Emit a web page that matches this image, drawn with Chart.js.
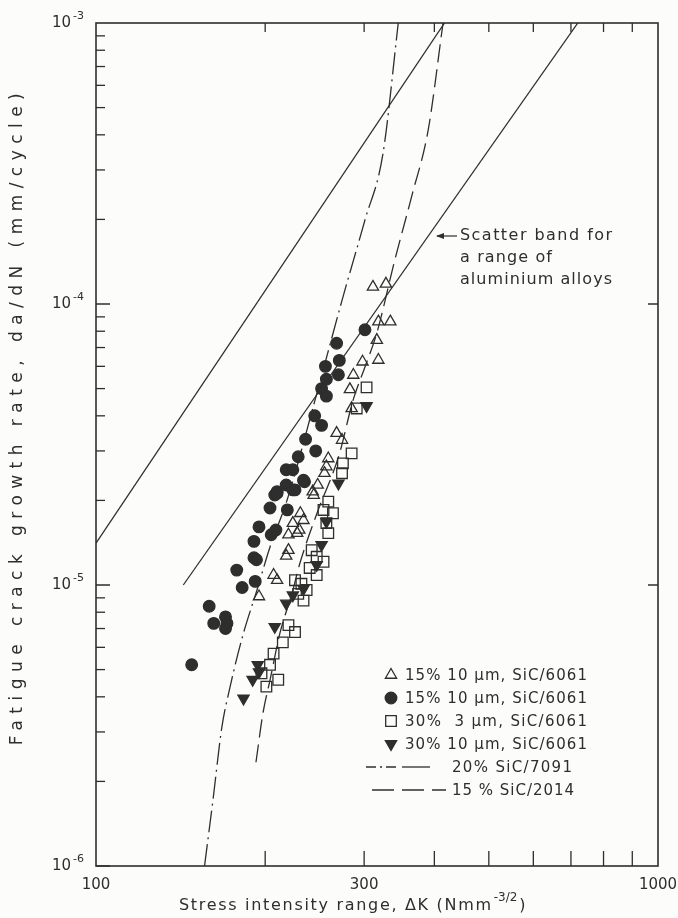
<!DOCTYPE html>
<html><head><meta charset="utf-8">
<script src="https://cdn.jsdelivr.net/npm/chart.js@4/dist/chart.umd.min.js"></script>
<style>html,body{margin:0;padding:0;background:#fcfcfa;} canvas{display:block}</style>
</head><body>
<canvas id="c" width="678" height="918"></canvas>
<script>
// ---------- data ----------
const xTickValues = [100, 300, 1000];
const xTickLabels = ['100', '300', '1000'];
const yTickValues = [1e-3, 1e-4, 1e-5, 1e-6];
const yTickExponents = ['-3', '-4', '-5', '-6'];

// 15% 10 µm SiC/6061 (open triangles)
const triOpenK = [311, 328, 318, 334, 316, 298, 318, 287, 283, 285, 268, 274, 259, 257, 255, 248, 243, 244, 231, 234, 224, 230, 220, 228, 220, 218, 207, 210, 195];
const triOpenRate = [1.15e-4, 1.18e-4, 8.65e-5, 8.65e-5, 7.44e-5, 6.23e-5, 6.32e-5, 5.59e-5, 4.97e-5, 4.25e-5, 3.47e-5, 3.28e-5, 2.82e-5, 2.64e-5, 2.50e-5, 2.27e-5, 2.15e-5, 2.09e-5, 1.80e-5, 1.70e-5, 1.66e-5, 1.57e-5, 1.51e-5, 1.53e-5, 1.33e-5, 1.27e-5, 1.085e-5, 1.04e-5, 9.1e-6];

// 15% 10 µm SiC/6061 (filled circles)
const circK = [148, 159, 162, 170, 171, 170, 178, 182, 192, 191, 193, 191, 195, 204, 205, 209, 208, 210, 219, 218, 224, 235, 301, 268, 271, 256, 270, 257, 252, 257, 245, 252, 236, 246, 229, 218, 224, 234, 226, 210];
const circRate = [5.2e-6, 8.4e-6, 7.3e-6, 7.7e-6, 7.3e-6, 7.0e-6, 1.13e-5, 9.8e-6, 1.03e-5, 1.25e-5, 1.23e-5, 1.43e-5, 1.61e-5, 1.88e-5, 1.51e-5, 1.57e-5, 2.09e-5, 2.15e-5, 1.85e-5, 2.27e-5, 2.18e-5, 2.33e-5, 8.1e-5, 7.25e-5, 6.3e-5, 6.0e-5, 5.6e-5, 5.4e-5, 5.0e-5, 4.7e-5, 4.0e-5, 3.7e-5, 3.3e-5, 3.0e-5, 2.86e-5, 2.57e-5, 2.57e-5, 2.36e-5, 2.18e-5, 2.12e-5];

// 30% 3 µm SiC/6061 (open squares)
const sqK = [303, 291, 285, 275, 274, 259, 254, 264, 257, 259, 242, 247, 254, 240, 247, 226, 232, 237, 229, 234, 220, 226, 215, 207, 204, 211, 201, 197];
const sqRate = [5.05e-5, 4.25e-5, 2.94e-5, 2.71e-5, 2.50e-5, 1.98e-5, 1.85e-5, 1.80e-5, 1.66e-5, 1.53e-5, 1.33e-5, 1.26e-5, 1.21e-5, 1.15e-5, 1.085e-5, 1.04e-5, 1.01e-5, 9.6e-6, 9.3e-6, 8.8e-6, 7.2e-6, 6.8e-6, 6.25e-6, 5.7e-6, 5.2e-6, 4.6e-6, 4.35e-6, 4.85e-6];

// 30% 10 µm SiC/6061 (filled down triangles)
const triDownK = [303, 270, 257, 252, 247, 234, 224, 218, 208, 194, 195, 190, 183];
const triDownRate = [4.34e-5, 2.30e-5, 1.68e-5, 1.39e-5, 1.18e-5, 9.7e-6, 9.2e-6, 8.6e-6, 7.1e-6, 5.2e-6, 4.9e-6, 4.6e-6, 3.95e-6];

// scatter band for aluminium alloys (two straight lines)
const bandUpperK = [100, 417];
const bandUpperRate = [1.41e-5, 1e-3];
const bandLowerK = [143, 720];
const bandLowerRate = [1.0e-5, 1e-3];

// 20% SiC/7091 (dash-dot curve)
const sic7091K = [156, 161.5, 167.4, 173.2, 182.6, 193.4, 204, 218.7, 245.3, 274, 301, 324, 345];
const sic7091Rate = [1e-6, 1.72e-6, 3.1e-6, 4.34e-6, 6.64e-6, 9.6e-6, 1.365e-5, 2.0e-5, 4.55e-5, 1.03e-4, 1.99e-4, 3.42e-4, 1e-3];

// 15% SiC/2014 (dashed curve)
const sic2014K = [192.6, 198.2, 204, 212.5, 223.3, 230.7, 247.3, 270.7, 286.7, 301, 316, 340, 365, 390, 414.5];
const sic2014Rate = [2.34e-6, 3.5e-6, 4.59e-6, 6.75e-6, 9.36e-6, 1.2e-5, 1.8e-5, 2.9e-5, 4.55e-5, 5.97e-5, 7.88e-5, 1.43e-4, 2.44e-4, 4.16e-4, 1e-3];

const legendLabels = ['15% 10 µm, SiC/6061', '15% 10 µm, SiC/6061', '30%  3 µm, SiC/6061', '30% 10 µm, SiC/6061', '20% SiC/7091', '15 % SiC/2014'];
const noteLines = ['Scatter band for', 'a range of', 'aluminium alloys'];
const xTitle = 'Stress intensity range, ΔK (Nmm';
const xTitleSup = '-3/2';
const yTitle = 'Fatigue crack growth rate, da/dN (mm/cycle)';

// ---------- helpers ----------
const pts = (xs, ys) => xs.map((x, i) => ({x, y: ys[i]}));
const INK = '#2e2e2e';
const FONT = '"DejaVu Sans", sans-serif';

const markerBase = {showLine: false, borderColor: INK, borderWidth: 1.3};
const lineBase = {showLine: true, pointRadius: 0, borderColor: INK, borderWidth: 1.3, fill: false};

function fitText(ctx, text, target) {
  ctx.letterSpacing = '0px';
  const w = ctx.measureText(text).width;
  const n = [...text].length;
  const ls = n > 1 ? (target - w) / (n - 1) : 0;
  ctx.letterSpacing = ls.toFixed(2) + 'px';
}

const decor = {
  id: 'decor',
  afterDatasetsDraw(chart) {
    const ctx = chart.ctx, a = chart.chartArea;
    const xs = chart.scales.x, ys = chart.scales.y;
    ctx.save();
    ctx.strokeStyle = INK;
    ctx.fillStyle = INK;
    // frame
    ctx.lineWidth = 1.6;
    ctx.strokeRect(a.left, a.top, a.right - a.left, a.bottom - a.top);
    // x ticks (bottom up, top down)
    ctx.lineWidth = 1.3;
    for (let v = 200; v <= 900; v += 100) {
      const px = xs.getPixelForValue(v);
      ctx.beginPath();
      ctx.moveTo(px, a.bottom); ctx.lineTo(px, a.bottom - 15);
      ctx.moveTo(px, a.top); ctx.lineTo(px, a.top + 9);
      ctx.stroke();
    }
    // y ticks (left inward, minor + major); right: major only
    for (let e = -6; e <= -4; e++) {
      for (let m = 1; m <= 9; m++) {
        const v = m * Math.pow(10, e);
        const py = ys.getPixelForValue(v);
        const len = m === 1 ? 14 : 9;
        ctx.beginPath();
        ctx.moveTo(a.left, py); ctx.lineTo(a.left + len, py);
        if (m === 1 && e > -6) { ctx.moveTo(a.right, py); ctx.lineTo(a.right - 10, py); }
        ctx.stroke();
      }
    }
    // y tick labels 10^n
    ctx.textBaseline = 'middle';
    yTickValues.forEach((v, i) => {
      const py = ys.getPixelForValue(v);
      ctx.font = '11px ' + FONT;
      ctx.textAlign = 'right';
      const supW = ctx.measureText(yTickExponents[i]).width;
      ctx.fillText(yTickExponents[i], a.left - 12, py - 7);
      ctx.font = '15px ' + FONT;
      ctx.fillText('10', a.left - 14 - supW, py);
    });
    // x tick labels
    ctx.font = '15px ' + FONT;
    ctx.textAlign = 'center';
    xTickValues.forEach((v, i) => {
      ctx.fillText(xTickLabels[i], xs.getPixelForValue(v), a.bottom + 19);
    });
    // x title
    ctx.font = '16px ' + FONT;
    ctx.textAlign = 'left';
    fitText(ctx, xTitle, 312);
    const tx = 179;
    ctx.fillText(xTitle, tx, 906);
    const w1 = ctx.measureText(xTitle).width;
    ctx.font = '12px ' + FONT;
    ctx.letterSpacing = '0px';
    ctx.fillText(xTitleSup, tx + w1 + 1, 898);
    const w2 = ctx.measureText(xTitleSup).width;
    ctx.font = '16px ' + FONT;
    ctx.fillText(')', tx + w1 + w2 + 3, 906);
    // y title
    ctx.save();
    ctx.translate(18, 416);
    ctx.rotate(-Math.PI / 2);
    ctx.font = '17px ' + FONT;
    ctx.textAlign = 'center';
    fitText(ctx, yTitle, 652);
    ctx.fillText(yTitle, 0, 0);
    ctx.restore();
    ctx.letterSpacing = '0px';
    // note with arrow
    ctx.font = '16px ' + FONT;
    ctx.textAlign = 'left';
    noteLines.forEach((t, i) => {
      fitText(ctx, t, i === 0 ? 152 : (i === 1 ? 92 : 152));
      ctx.fillText(t, 460, 236 + i * 22);
    });
    ctx.letterSpacing = '0px';
    ctx.lineWidth = 1.2;
    ctx.beginPath(); ctx.moveTo(457, 236); ctx.lineTo(437, 236); ctx.stroke();
    ctx.beginPath(); ctx.moveTo(436, 236); ctx.lineTo(444, 233); ctx.lineTo(444, 239); ctx.closePath(); ctx.fill();
    // legend
    const rows = [675, 698, 721, 744, 767, 790];
    const mx = 391;
    ctx.font = '15px ' + FONT;
    const ds = chart.data.datasets;
    for (let i = 0; i < 4; i++) {
      const d = ds[i];
      ctx.fillStyle = d.backgroundColor;
      ctx.strokeStyle = INK;
      ctx.lineWidth = 1.3;
      Chart.helpers.drawPoint(ctx, {
        pointStyle: d.pointStyle, radius: d.pointRadius, rotation: d.rotation || 0, borderWidth: 1.3
      }, mx, rows[i]);
      ctx.fillStyle = INK;
      fitText(ctx, legendLabels[i], 182);
      ctx.fillText(legendLabels[i], 405, rows[i] + 1);
    }
    ctx.letterSpacing = '0px';
    ctx.lineWidth = 1.3;
    ctx.setLineDash([10, 4, 2, 4]);
    ctx.beginPath(); ctx.moveTo(366, rows[4]); ctx.lineTo(398, rows[4]); ctx.stroke();
    ctx.setLineDash([]);
    ctx.beginPath(); ctx.moveTo(402, rows[4]); ctx.lineTo(430, rows[4]); ctx.stroke();
    ctx.setLineDash([22, 8]);
    ctx.beginPath(); ctx.moveTo(372, rows[5]); ctx.lineTo(446, rows[5]); ctx.stroke();
    ctx.setLineDash([]);
    fitText(ctx, legendLabels[4], 120);
    ctx.fillText(legendLabels[4], 452, rows[4] + 1);
    fitText(ctx, legendLabels[5], 122);
    ctx.fillText(legendLabels[5], 452, rows[5] + 1);
    ctx.restore();
  }
};

new Chart(document.getElementById('c'), {
  type: 'scatter',
  data: {
    datasets: [
      Object.assign({label: legendLabels[0], data: pts(triOpenK, triOpenRate), pointStyle: 'triangle', pointRadius: 6.5, backgroundColor: 'rgba(0,0,0,0)'}, markerBase),
      Object.assign({label: legendLabels[1], data: pts(circK, circRate), pointStyle: 'circle', pointRadius: 5.8, backgroundColor: INK}, markerBase),
      Object.assign({label: legendLabels[2], data: pts(sqK, sqRate), pointStyle: 'rect', pointRadius: 7.5, backgroundColor: 'rgba(0,0,0,0)'}, markerBase),
      Object.assign({label: legendLabels[3], data: pts(triDownK, triDownRate), pointStyle: 'triangle', pointRadius: 6.5, rotation: 180, pointRotation: 180, backgroundColor: INK}, markerBase),
      Object.assign({label: 'band upper', data: pts(bandUpperK, bandUpperRate)}, lineBase),
      Object.assign({label: 'band lower', data: pts(bandLowerK, bandLowerRate)}, lineBase),
      Object.assign({label: legendLabels[4], data: pts(sic7091K, sic7091Rate), borderDash: [22, 5, 2, 5], cubicInterpolationMode: 'monotone'}, lineBase),
      Object.assign({label: legendLabels[5], data: pts(sic2014K, sic2014Rate), borderDash: [18, 7], cubicInterpolationMode: 'monotone'}, lineBase)
    ]
  },
  options: {
    responsive: false,
    animation: false,
    devicePixelRatio: 1,
    layout: {padding: {left: 96, right: 20, top: 23, bottom: 52}},
    plugins: {legend: {display: false}, tooltip: {enabled: false}},
    scales: {
      x: {type: 'logarithmic', min: 100, max: 1000, display: false},
      y: {type: 'logarithmic', min: 1e-6, max: 1e-3, display: false}
    }
  },
  plugins: [decor]
});
</script>
</body></html>
